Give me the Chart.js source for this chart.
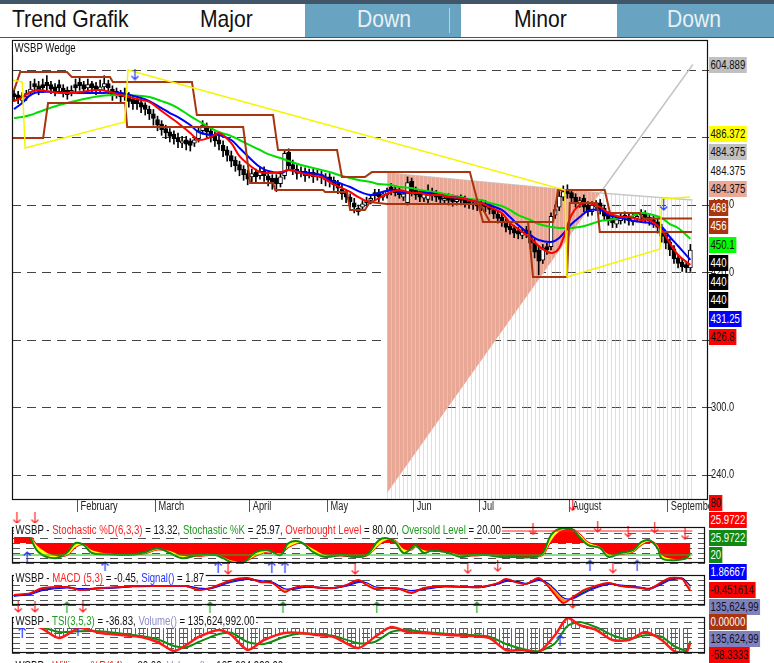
<!DOCTYPE html>
<html>
<head>
<meta charset="utf-8">
<script src="https://cdn.jsdelivr.net/npm/chart.js@4.4.1/dist/chart.umd.min.js"></script>
<style>
  body { margin: 0; width: 774px; height: 663px; overflow: hidden; position: relative; background: #fff;
         font-family: "Liberation Sans", Arial, sans-serif; }
  .hdr { position: absolute; left: 0; top: 0; width: 774px; height: 38px; box-sizing: border-box;
         border-top: 4px solid #42566a; border-bottom: 1px solid #555; }
  .cell { position: absolute; top: 0; height: 33px; background: #68a4c1; }
  .ht { position: absolute; top: 1px; font-size: 24px; line-height: 28px; white-space: nowrap;
        transform: scaleX(0.88); transform-origin: left center; color: #111; }
  .ht.on { color: #e8f0f5; }
  canvas { position: absolute; left: 0; }
  .ttl { position: absolute; left: 14px; background: #fff; font-size: 13px; line-height: 14px; padding: 0 2px;
         white-space: nowrap; transform: scaleX(0.74); transform-origin: left top; color: #111; z-index: 4; }
  .r { color: #ff2020; } .g { color: #1f9a1f; } .b { color: #2233ff; } .p { color: #8c8cc8; }
  .tag { position: absolute; left: 709px; height: 16px; line-height: 16px; font-size: 13px; padding: 0 2px;
         white-space: nowrap; transform: scaleX(0.74); transform-origin: left center; z-index: 5; }
</style>
</head>
<body>
<div class="hdr">
  <div class="cell" style="left:305px;width:156px"></div>
  <div style="position:absolute;left:449px;top:4px;width:1px;height:25px;background:#b8d2df"></div>
  <div class="cell" style="left:617px;width:157px"></div>
  <div class="ht" style="left:12px">Trend Grafik</div>
  <div class="ht" style="left:200px">Major</div>
  <div class="ht on" style="left:357px">Down</div>
  <div class="ht" style="left:514px">Minor</div>
  <div class="ht on" style="left:667px">Down</div>
</div>

<canvas id="main" width="774" height="480" style="top:38px"></canvas>
<canvas id="stoch" width="774" height="63" style="top:512px"></canvas>
<canvas id="macd" width="774" height="48" style="top:567px"></canvas>
<canvas id="tsi" width="774" height="53" style="top:610px"></canvas>

<div class="ttl" style="top:41px;left:13px">WSBP Wedge</div>
<div class="ttl" style="top:523px">WSBP - <span class="r">Stochastic %D(6,3,3)</span> = 13.32, <span class="g">Stochastic %K</span> = 25.97, <span class="r">Overbought Level</span> = 80.00, <span class="g">Oversold Level</span> = 20.00</div>
<div class="ttl" style="top:571px">WSBP - <span class="r">MACD (5,3)</span> = -0.45, <span class="b">Signal()</span> = 1.87</div>
<div class="ttl" style="top:614px">WSBP - <span class="g">TSI(3,5,3)</span> = -36.83, <span class="p">Volume()</span> = 135,624,992.00</div>
<div class="ttl" style="top:659px">WSBP - <span class="r">Williams %R(14)</span> = -80.00, <span class="p">Volume()</span> = 135,624,992.00</div>

<script>
// ---- price data (one entry per trading day) ----
const monthLabels = ['February', 'March', 'April', 'May', 'Jun', 'Jul', 'August', 'September'];
const monthStarts = [16, 35, 58, 77, 98, 114, 136, 160];

const opens = [
  579, 578, 573, 576, 580, 588, 586, 587, 589, 587, 585, 587, 584, 582, 580, 587,
  589, 587, 584, 588, 586, 582, 585, 588, 583, 578, 580, 576, 577, 574, 573, 571, 569, 565, 561,
  556, 552, 548, 545, 543, 540, 535, 538, 537, 535, 539, 546, 550, 546, 541, 538, 533, 529, 524, 520, 516, 512, 508,
  505, 509, 506, 510, 506, 504, 504, 499, 506, 527, 516, 512, 508, 510, 506, 509, 505, 507, 505,
  505, 502, 499, 494, 491, 487, 482, 474, 478, 482, 484, 491, 491, 487, 489, 496, 494, 492, 487, 482, 501,
  493, 490, 486, 485, 492, 490, 488, 484, 487, 486, 483, 486, 485, 483, 482, 481,
  482, 481, 479, 476, 472, 469, 465, 461, 459, 457, 453, 458, 453, 446, 440, 431, 443, 443, 471, 478, 487, 494,
  491, 487, 481, 486, 480, 474, 478, 482, 477, 471, 468, 463, 466, 471, 469, 465, 468, 473, 472, 469, 467, 465, 460, 453,
  447, 441, 433, 429, 427, 424
];
const highs = [
  582, 581, 580, 582, 590, 592, 590, 592, 595, 590, 588, 591, 587, 585, 586, 592,
  593, 590, 592, 590, 589, 591, 595, 591, 586, 584, 582, 584, 580, 577, 575, 573, 571, 568, 565,
  559, 555, 551, 548, 546, 544, 541, 541, 539, 541, 549, 555, 553, 548, 545, 541, 537, 532, 528, 523, 519, 515, 511,
  512, 512, 514, 514, 509, 507, 507, 508, 529, 530, 520, 516, 514, 513, 512, 512, 511, 510, 508,
  508, 505, 502, 498, 494, 490, 486, 480, 484, 487, 489, 494, 494, 492, 495, 499, 497, 495, 493, 505, 504,
  496, 493, 492, 498, 495, 493, 491, 489, 490, 489, 488, 489, 488, 486, 485, 484,
  485, 484, 482, 479, 475, 472, 468, 464, 462, 460, 459, 461, 457, 450, 444, 445, 446, 473, 480, 492, 497, 498,
  494, 490, 487, 489, 483, 483, 484, 485, 480, 474, 471, 470, 473, 474, 472, 472, 473, 476, 475, 472, 470, 468, 463, 456,
  450, 444, 436, 432, 429, 445
];
const lows = [
  572, 570, 570, 573, 577, 581, 578, 580, 582, 579, 577, 580, 576, 574, 577, 580,
  582, 579, 581, 580, 578, 579, 582, 579, 573, 575, 571, 573, 567, 565, 565, 562, 560, 556, 551,
  546, 542, 539, 536, 534, 531, 531, 529, 528, 532, 536, 543, 540, 536, 532, 529, 523, 519, 514, 510, 506, 502, 498,
  500, 500, 503, 501, 497, 494, 492, 496, 503, 511, 507, 503, 505, 501, 504, 500, 502, 499, 497,
  496, 493, 490, 485, 482, 478, 473, 471, 475, 479, 481, 484, 483, 484, 486, 489, 488, 486, 484, 480, 488,
  485, 483, 483, 482, 484, 483, 481, 481, 480, 479, 480, 480, 478, 477, 476, 475,
  475, 474, 472, 468, 464, 461, 456, 454, 451, 450, 450, 451, 441, 433, 418, 428, 436, 440, 468, 475, 484, 486,
  482, 478, 478, 474, 470, 471, 475, 472, 466, 462, 460, 460, 463, 464, 462, 462, 465, 466, 464, 462, 460, 455, 447, 441,
  435, 428, 424, 421, 420, 421
];
const closes = [
  576, 574, 577, 579, 583, 585, 582, 584, 586, 583, 581, 584, 580, 578, 582, 584,
  586, 583, 587, 584, 582, 585, 588, 584, 578, 581, 576, 579, 572, 570, 570, 567, 565, 561, 557,
  551, 547, 544, 541, 539, 536, 537, 534, 533, 538, 546, 551, 545, 541, 537, 534, 528, 524, 519, 515, 511, 507, 503,
  508, 505, 510, 506, 502, 500, 499, 505, 526, 515, 512, 508, 510, 506, 509, 505, 507, 504, 502,
  501, 498, 495, 490, 487, 483, 478, 477, 481, 484, 486, 488, 487, 490, 492, 493, 491, 489, 490, 500, 492,
  489, 487, 490, 492, 488, 487, 485, 486, 484, 483, 485, 484, 482, 481, 480, 479,
  479, 478, 476, 472, 468, 465, 460, 458, 455, 454, 456, 455, 446, 438, 430, 442, 440, 470, 476, 488, 492, 490,
  486, 482, 484, 478, 474, 480, 481, 476, 470, 466, 464, 467, 470, 468, 466, 469, 470, 471, 468, 466, 464, 460, 452, 446,
  440, 432, 428, 425, 424, 440
];

// moving averages, read at these bar positions
const maIdx = [0, 2, 4, 6, 11, 16, 21, 26, 31, 33, 36, 38, 40, 43, 45, 48, 50, 53, 55, 58, 60, 62, 65, 67, 70, 72, 75, 77, 80, 82,
  84, 87, 89, 92, 94, 97, 99, 101, 104, 106, 109, 111, 114, 116, 119, 121, 123, 126, 128, 131, 133, 136, 138, 140, 143, 145,
  148, 150, 153, 155, 158, 160, 162, 165];
const maFast = [572.4, 576, 580.4, 582.2, 579.6, 580.4, 582.2, 577.8, 573.3, 571.6, 563.6, 558.2, 552.9, 544, 537.8, 540.4,
  544, 535.1, 523.5, 513.8, 509.3, 508.4, 509.3, 511.1, 508.4, 506.7, 504.9, 500.4, 495.1, 491.6, 487.1, 482.7, 486.2, 491.6,
  493.3, 490.7, 490.7, 488.9, 488.9, 487.1, 486.2, 484.4, 481.8, 478.2, 472.9, 464, 458.7, 450.7, 443.6, 437.3, 441.8, 471.1,
  480, 481.8, 478.2, 472.9, 469.3, 469.3, 466.7, 466.7, 457.8, 446.2, 435.6, 426.8];
const maMid = [565.3, 570.7, 577.8, 580.4, 580.4, 579.6, 579.6, 579.6, 575.1, 572.4, 566.2, 561.8, 558.2, 551.1, 544.9, 542.2,
  542.2, 537.8, 530.7, 520, 513.8, 510.2, 508.4, 511.1, 509.3, 508.4, 506.7, 502.2, 498.7, 496, 492.4, 488.9, 490.7, 493.3,
  491.6, 490.7, 491.6, 490.7, 488.9, 487.1, 486.2, 484.4, 481.8, 480, 475.6, 469.3, 462.2, 453.3, 448.9, 447.1, 450.7, 463.1,
  469.3, 474.7, 475.6, 471.1, 468.4, 466.7, 464.9, 464, 460.4, 451.6, 443.6, 431.25];
const maSlow = [557.3, 558.2, 560, 562.7, 568.9, 573.3, 576.9, 577.8, 576.9, 576, 572.4, 569.8, 566.2, 559.1, 554.7, 548.4,
  544.9, 541.3, 537.8, 532.4, 528.9, 525.3, 521.8, 519.1, 515.6, 513.8, 511.1, 509.3, 505.8, 504, 502.2, 500.4, 498.7, 497.8,
  496, 495.1, 493.3, 492.4, 490.7, 488.9, 487.1, 485.3, 484.4, 481.8, 479.1, 475.6, 471.1, 466.7, 463.1, 460.4, 459.6, 459.6,
  460.4, 462.2, 465.8, 466.7, 468.4, 469.3, 472.9, 472, 468.4, 463.1, 459.6, 450.1];

// wedge (yellow), channel (brown) and fan (salmon / grey) lines
const wedgeX = [-0.5, 2, 2.7, 27, 27.8, 134.4, 134.9, 157.6, 158, 164.9];
const wedgeY = [591.1, 589.3, 530.7, 553.8, 600, 493.3, 416, 440.9, 485.3, 487.1];
const upperX = [0, 1.5, 12.9, 14.1, 23.4, 24.1, 43.4, 44.6, 63.2, 64.4, 78.8, 80, 85.6, 87.3, 111.2, 114.4, 131.5, 132.7,
  144.1, 145.4, 152.7, 153.4, 165.4];
const upperY = [582.2, 598.2, 598.2, 593.8, 593.8, 589.3, 589.3, 560, 560, 528.9, 528.9, 504.9, 504.9, 509.3, 509.3, 464.9,
  464.9, 493.3, 493.3, 472.9, 472.9, 468, 468];
const lowerX = [-0.5, 7.1, 8.3, 27.1, 27.6, 55.9, 57.6, 63.2, 63.7, 75.4, 75.9, 81.2, 82, 85.6, 86.8, 91, 113.7, 116.1,
  125.4, 126.6, 134.9, 135.6, 142.2, 142.9, 165.4];
const lowerY = [539.6, 539.6, 570.7, 570.7, 549.3, 549.3, 499.6, 499.6, 493.3, 493.3, 491.6, 491.6, 475.6, 475.6, 482.7,
  480.9, 480.9, 464.9, 464.9, 416, 416, 481.8, 481.8, 456, 456];
const fanTopX = [91, 143, 165.5];
const fanTopY = [508.4, 490.7, 484.4];
const fanRayX = [91, 165.6];
const fanRayY = [224, 604.9];

const yTickValues = [600, 540, 480, 420, 360, 300, 240];
const mainDownX = [29.5, 158.5];
const mainDownY = [596, 480];
const mainRedX = [136.3];
const mainRedY = [213];

// stochastic panel
const stochIdx = [0, 3, 6, 10, 13, 15, 17, 19, 23, 28, 32, 35, 38, 41, 45, 49, 51, 53, 56, 59, 62, 65, 67, 70, 73, 76, 80,
  83, 86, 89, 91, 93, 95, 97, 98, 100, 102, 106, 109, 112, 115, 119, 122, 127, 129, 131, 133, 136, 138, 140, 143, 145, 148,
  151, 153, 155, 157, 158, 161, 164, 165];
const stochK = [77, 77, 27, 12, 27, 50, 45, 25, 22, 20, 27, 37, 25, 12, 20, 20, 12, 2, 2, 27, 32, 20, 50, 52, 27, 15, 20, 15,
  20, 57, 62, 52, 25, 37, 45, 25, 32, 25, 15, 20, 20, 15, 15, 15, 25, 70, 85, 85, 65, 45, 37, 15, 25, 32, 52, 57, 37, 12, 7,
  12, 26];
const stochD = [75, 77, 40, 18, 20, 40, 46, 32, 24, 21, 24, 33, 30, 18, 17, 20, 15, 6, 3, 18, 28, 24, 40, 50, 35, 20, 18, 16,
  18, 45, 58, 56, 35, 33, 41, 32, 30, 27, 19, 18, 20, 17, 15, 15, 20, 55, 78, 85, 72, 52, 40, 22, 22, 28, 45, 54, 44, 20, 10,
  11, 13];
const stochLevels = [80, 20];
const stochDownX = [0.7, 5.1, 29.5, 41.2, 42.4, 56.3, 83.2, 109.5, 116.8, 126.6, 142.4, 149.8, 156.3, 163.7, 52.2, 83.2, 110.7, 118, 146.1];
const stochDownY = [112, 112, 82, 82, 82, 82, 82, 82, 82, 84, 90, 78, 88, 72, -15, -15, -13, -8, -12];
const stochUpX = [3.2, 22.2, 49.8, 62.9, 66.1, 140.5, 152];
const stochUpY = [15, -10, -10, -10, -10, -6, -6];

// MACD panel
const macdIdx = [0, 4, 7, 13, 16, 21, 26, 29, 34, 38, 42, 45, 48, 53, 57, 60, 63, 66, 68, 71, 75, 78, 81, 84, 86, 88, 91, 94,
  97, 100, 105, 110, 114, 118, 120, 123, 125, 128, 130, 132, 134, 136, 139, 141, 145, 148, 153, 155, 158, 160, 163, 164, 165];
const macdLine = [-2.5, -1.5, 1, 1.5, 0, 1, 1.5, 2, 2, 2, 2, 0, 1, 5, 6, 4, 3.5, -1, 1, 2, 1, 1, 2.5, 5, 2.5, 0.5, 1, 0.5,
  -1.5, 1, 2, 1.5, 1.5, 3.5, 5.5, 3.5, 3, 6, 2.5, -2.5, -6.5, -4, 0, 1.5, 3.5, 2, 1, 0.5, 4, 6, 5.5, 2.5, -0.45];
const macdSignal = [-3, -2, 0, 1.2, 0.5, 0.8, 1.3, 1.8, 2, 2, 2, 0.8, 0.8, 4, 5.5, 4.5, 3.8, 0.5, 0.5, 1.5, 1.2, 1, 2, 4, 3.5,
  1.5, 1, 0.7, -0.5, 0.5, 1.7, 1.6, 1.5, 3, 4.5, 4, 3.2, 5, 3.5, 0, -4, -4.5, -1.5, 0.5, 3, 2.3, 1.2, 0.7, 3, 5, 5.8, 4, 1.87];
const macdThird = [-2.8, -1.8, 0.5, 1.4, 0.3, 0.9, 1.4, 1.9, 2, 2, 2, 0.4, 0.9, 4.5, 5.8, 4.2, 3.6, -0.3, 0.8, 1.8, 1.1, 1,
  2.3, 4.6, 3, 1, 1, 0.6, -1, 0.8, 1.9, 1.5, 1.5, 3.3, 5, 3.8, 3.1, 5.6, 3, -1.5, -5.5, -4.3, -0.8, 1, 3.3, 2.1, 1.1, 0.6, 3.5,
  5.6, 5.7, 3.2, 0.8];
const macdDownX = [1, 5.1, 16.8, 136.3];
const macdDownY = [-8.5, -8.5, -8.5, -6.5];
const macdUpX = [12.9, 47.8, 65.6, 88.5, 112.9];
const macdUpY = [-8.5, -8.5, -8.5, -8.5, -8.5];

// TSI panel
const tsiIdx = [0, 6, 11, 16, 21, 26, 31, 35, 39, 42, 45, 50, 53, 57, 61, 66, 70, 74, 78, 84, 88, 92, 96, 100, 106, 112, 116,
  120, 124, 128, 132, 135, 138, 142, 146, 150, 154, 158, 161, 164, 165];
const tsiLine = [5, 2.5, -25, 0, -12.5, -17.5, -22.5, -35, -57.5, -42.5, -22.5, -5, -17.5, -55, -30, -12.5, -12.5, -17.5,
  -22.5, -50, -22.5, 2.5, -10, -12.5, -17.5, -20, -25, -55, -55, -60, -17.5, 25, 7.5, -5, -30, -30, -10, -30, -57.5, -60, -36.83];
const tsiSignal = [3, 4, -10, -8, -8, -14, -20, -28, -45, -48, -35, -15, -12, -35, -40, -22, -14, -15, -20, -38, -35, -10, -5,
  -10, -15, -18, -22, -40, -52, -58, -38, 5, 15, 2, -18, -28, -18, -22, -45, -55, -33];
const tsiUpX = [2, 15.6, 133.2];
const tsiUpY = [-10, -5, -30];

// right-hand value tags
const mainTagValues = [604.889, 486.372, 484.375, 484.375, 484.375, 468, 456, 450.1, 440, 440, 440, 431.25, 426.8];
const mainTagColors = [['#c0c0c0', '#111'], ['#ffff00', '#111'], ['#c0c0c0', '#111'], ['#ffffff', '#111'],
  ['#eaa898', '#111'], ['#a8350f', '#fff'], ['#a8350f', '#fff'], ['#00ff00', '#111'], ['#000', '#fff'], ['#000', '#fff'],
  ['#000', '#fff'], ['#0000ff', '#fff'], ['#ff0000', '#111']];
const stochTagValues = [80, 25.9722, 25.9722, 20];
const stochTagTexts = ['80', '25.9722', '25.9722', '20'];
const stochTagColors = [['#ff0000', '#111'], ['#ff0000', '#fff'], ['#118811', '#fff'], ['#118811', '#fff']];
const macdTagValues = [1.86667, -0.451614, -7.5];
const macdTagTexts = ['1.86667', '-0.451614', '135,624,99'];
const macdTagColors = [['#0000ff', '#fff'], ['#ff0000', '#111'], ['#8080c0', '#111']];
const tsiTagValues = [0, -30, -58.3333];
const tsiTagTexts = ['0.00000', '135,624,99', '-58.3333'];
const tsiTagColors = [['#a8350f', '#fff'], ['#8080c0', '#111'], ['#ff0000', '#111']];

// ---- helpers ----
const X_MIN = -0.5, X_MAX = 169.3;
const PANEL_X_MAX = X_MIN + (X_MAX - X_MIN) * 693 / 696;
const LAST_X = closes.length - 0.5;

function pts(xs, ys) { return xs.map((x, k) => ({ x, y: ys[k] })); }

function stripes(color, period, width, base) {
  const c = document.createElement('canvas');
  c.width = period; c.height = 8;
  const g = c.getContext('2d');
  if (base) { g.fillStyle = base; g.fillRect(0, 0, period, 8); }
  g.fillStyle = color; g.fillRect(period - width, 0, width, 8);
  return g.createPattern(c, 'repeat');
}

function arrowImg(color, up) {
  const c = document.createElement('canvas');
  c.width = 9; c.height = 12;
  const g = c.getContext('2d');
  g.strokeStyle = color; g.lineWidth = 1.2;
  g.beginPath();
  if (up) { g.moveTo(4.5, 12); g.lineTo(4.5, 1); g.moveTo(1, 4.5); g.lineTo(4.5, 1); g.lineTo(8, 4.5); }
  else { g.moveTo(4.5, 0); g.lineTo(4.5, 11); g.moveTo(1, 7.5); g.lineTo(4.5, 11); g.lineTo(8, 7.5); }
  g.stroke();
  return c;
}

function arrows(xs, ys, color, up) {
  return { type: 'line', data: pts(xs, ys), showLine: false, pointStyle: arrowImg(color, up),
           pointRadius: 20, clip: false, order: 0 };
}

function line(data, color, width, order, extra) {
  return Object.assign({ type: 'line', data, borderColor: color, borderWidth: width, pointRadius: 0,
                         fill: false, order }, extra || {});
}

function condText(ctx, text, x, y, color) {
  ctx.save();
  ctx.font = '12.5px "Liberation Sans", Arial, sans-serif';
  ctx.fillStyle = color; ctx.textBaseline = 'middle'; ctx.textAlign = 'left';
  ctx.translate(x, y); ctx.scale(0.74, 1);
  ctx.fillText(text, 0, 0);
  ctx.restore();
}

const frame = {
  id: 'frame',
  afterDatasetsDraw(chart) {
    const { ctx, chartArea: a } = chart;
    ctx.save();
    ctx.strokeStyle = '#111';
    ctx.lineWidth = 1.2;
    ctx.strokeRect(a.left + 0.5, a.top + 0.5, a.right - a.left - 1, a.bottom - a.top - 1);
    ctx.restore();
  }
};

const axisText = {
  id: 'axisText',
  afterDraw(chart) {
    const { ctx, chartArea, scales } = chart;
    scales.x.ticks.forEach((t, k) => {
      condText(ctx, monthLabels[k], scales.x.getPixelForValue(t.value) + 3, chartArea.bottom + 7, '#222');
    });
    scales.y.ticks.forEach((t) => {
      condText(ctx, t.value.toFixed(1), chartArea.right + 3, scales.y.getPixelForValue(t.value), '#222');
    });
  }
};

function baseOptions(padding, yScale, xMax) {
  return {
    responsive: false, animation: false, events: [],
    layout: { padding, autoPadding: false },
    plugins: { legend: { display: false }, tooltip: { enabled: false } },
    elements: { line: { tension: 0 } },
    scales: {
      x: { type: 'linear', display: false, offset: false, min: X_MIN, max: xMax },
      y: yScale
    }
  };
}

function panelY(min, max, step) {
  return {
    type: 'linear', position: 'right', min, max,
    ticks: { display: false, stepSize: step },
    grid: { color: '#555', drawTicks: false },
    border: { display: false, dash: [8, 6] },
    afterFit(s) { s.width = 0; }
  };
}

// ---- main price chart ----
const bars = closes.map((c, i) => i);
const paleStripes = stripes('rgba(236,168,156,0.45)', 4, 1);
const salmonFill = stripes('#f0bcae', 4, 1, '#e9a795');

const mainOpts = baseOptions({ left: 12, top: 2, right: 0, bottom: 0 }, {
  type: 'linear', position: 'right', min: 217.8, max: 626.7, beginAtZero: false,
  afterBuildTicks(s) { s.ticks = yTickValues.map(v => ({ value: v })); },
  ticks: { display: false },
  grid: { color: '#444', tickLength: 4, tickColor: '#333', tickBorderDash: [] },
  border: { display: false, dash: [9, 6] },
  afterFit(s) { s.width = 66; }
}, X_MAX);
mainOpts.scales.x = {
  type: 'linear', min: X_MIN, max: X_MAX, offset: false,
  afterBuildTicks(s) { s.ticks = monthStarts.map(m => ({ value: m - 0.5 })); },
  ticks: { display: false },
  grid: { offset: false, drawOnChartArea: false, drawTicks: true, tickLength: 12, color: '#555' },
  border: { display: false },
  afterFit(s) { s.height = 18; }
};

new Chart(document.getElementById('main'), {
  type: 'line',
  data: {
    datasets: [
      line(pts(fanTopX, fanTopY), '#c8c8c8', 1.5, 12, { fill: 'start', backgroundColor: paleStripes }),
      line([{ x: fanTopX[0], y: fanTopY[0] }, { x: fanTopX[1], y: fanTopY[1] }, { x: fanRayX[0], y: fanRayY[0] }],
           'rgba(0,0,0,0)', 0, 11, { fill: 'shape', backgroundColor: salmonFill }),
      line([{ x: fanTopX[1], y: fanTopY[1] }, { x: fanRayX[1], y: fanRayY[1] }], '#c4c4c4', 1.5, 10),
      { type: 'bar', data: bars.map(i => ({ x: i, y: [lows[i], highs[i]] })), backgroundColor: '#000',
        barThickness: 1, grouped: false, order: 8 },
      { type: 'bar', data: bars.map(i => ({ x: i, y: [opens[i], closes[i]] })),
        backgroundColor: bars.map(i => closes[i] >= opens[i] ? '#fff' : '#000'),
        borderColor: '#000', borderWidth: 1, borderSkipped: false, barThickness: 4, minBarLength: 1,
        grouped: false, order: 7 },
      line(pts(maIdx, maSlow), '#00dd00', 2, 5, { tension: 0.35 }),
      line(pts(maIdx, maMid), '#0000ff', 2, 4, { tension: 0.35 }),
      line(pts(maIdx, maFast), '#ff0000', 2, 3, { tension: 0.35 }),
      line(pts(upperX, upperY), '#a8350f', 2, 2),
      line(pts(lowerX, lowerY), '#a8350f', 2, 2),
      line(pts(wedgeX, wedgeY), '#f5f500', 1.5, 1),
      arrows(mainDownX, mainDownY, '#2233ff', false),
      arrows(mainRedX, mainRedY, '#ff2020', false)
    ]
  },
  options: mainOpts,
  plugins: [frame, axisText]
});
const mainChart = Chart.getChart('main');

// ---- stochastic ----
const stochChart = new Chart(document.getElementById('stoch'), {
  type: 'line',
  data: {
    datasets: [
      line(pts(stochIdx, stochD), '#ff0000', 1.5, 3,
           { tension: 0.4, fill: { target: { value: 50 }, above: '#ff0000', below: '#ff0000' } }),
      line(pts(stochIdx, stochK), '#118811', 2, 2,
           { tension: 0.4, fill: { target: '-1', above: '#ffff00', below: '#ffff00' } }),
      line([{ x: X_MIN, y: stochLevels[0] }, { x: LAST_X, y: stochLevels[0] }], '#ff2020', 1, 1),
      line([{ x: X_MIN, y: stochLevels[1] }, { x: LAST_X, y: stochLevels[1] }], '#22bb22', 1, 1),
      arrows(stochDownX, stochDownY, '#ff2020', false),
      arrows(stochUpX, stochUpY, '#2233ff', true)
    ]
  },
  options: baseOptions({ left: 12, right: 69, top: 15, bottom: 12 }, panelY(0, 90, 12.5), PANEL_X_MAX),
  plugins: [frame]
});

// ---- MACD ----
const macdChart = new Chart(document.getElementById('macd'), {
  type: 'line',
  data: {
    datasets: [
      line(pts(macdIdx, macdLine), '#ff0000', 1.8, 1,
           { tension: 0.3, fill: { target: '+1', above: 'rgba(0,0,0,0)', below: '#ff8c1a' } }),
      line(pts(macdIdx, macdSignal), '#0000ff', 1.8, 2, { tension: 0.3 }),
      line(pts(macdIdx, macdThird), '#119911', 1.8, 3, { tension: 0.3 }),
      arrows(macdDownX, macdDownY, '#ff2020', false),
      arrows(macdUpX, macdUpY, '#22aa22', true)
    ]
  },
  options: baseOptions({ left: 12, right: 69, top: 8, bottom: 10 }, panelY(-7.5, 7.5, 2.5), PANEL_X_MAX),
  plugins: [frame]
});

// ---- TSI ----
const tsiChart = new Chart(document.getElementById('tsi'), {
  type: 'line',
  data: {
    datasets: [
      line(pts(tsiIdx, tsiLine), '#ff1a1a', 2.5, 1,
           { tension: 0.25, fill: { target: { value: 0 }, above: stripes('#22aa22', 4, 1), below: stripes('#ff2020', 4, 1) } }),
      line(pts(tsiIdx, tsiSignal), '#118811', 2, 2, { tension: 0.25 }),
      arrows(tsiUpX, tsiUpY, '#2233ff', true)
    ]
  },
  options: baseOptions({ left: 12, right: 69, top: 7, bottom: 10 }, panelY(-62.5, 27.5, 12.5), PANEL_X_MAX),
  plugins: [frame]
});

// ---- value tags on the right, spread so they do not overlap ----
function placeTags(chart, canvasTop, values, texts, colors, gap, maxY) {
  const scale = chart.scales.y;
  const items = values.map((v, k) => ({ k, target: canvasTop + scale.getPixelForValue(v) }));
  items.sort((a, b) => a.target - b.target);
  let groups = items.map(t => ({ items: [t], top: t.target }));
  let changed = true;
  while (changed) {
    changed = false;
    groups.forEach(g => {
      const n = g.items.length;
      if (maxY != null && g.top + (n - 1) * gap > maxY) g.top = maxY - (n - 1) * gap;
    });
    for (let k = 0; k < groups.length - 1; k++) {
      const a = groups[k], b = groups[k + 1];
      if (a.top + a.items.length * gap > b.top + 0.01) {
        const merged = a.items.concat(b.items);
        const ts = merged.map(t => t.target).sort((x, y) => x - y);
        const n = ts.length;
        const med = n % 2 ? ts[(n - 1) / 2] : (ts[n / 2 - 1] + ts[n / 2]) / 2;
        groups.splice(k, 2, { items: merged, top: med - (n - 1) * gap / 2 });
        changed = true;
        break;
      }
    }
  }
  groups.forEach(g => g.items.forEach((t, j) => {
    const d = document.createElement('div');
    d.className = 'tag';
    d.textContent = texts[t.k];
    d.style.top = (g.top + j * gap - 8) + 'px';
    d.style.background = colors[t.k][0];
    d.style.color = colors[t.k][1];
    document.body.appendChild(d);
  }));
}

placeTags(mainChart, 38, mainTagValues, mainTagValues.map(String), mainTagColors, 18.5, null);
placeTags(stochChart, 512, stochTagValues, stochTagTexts, stochTagColors, 17.5, 555);
placeTags(macdChart, 567, macdTagValues, macdTagTexts, macdTagColors, 17.5, 607);
placeTags(tsiChart, 610, tsiTagValues, tsiTagTexts, tsiTagColors, 16.5, 655);
</script>
</body>
</html>
